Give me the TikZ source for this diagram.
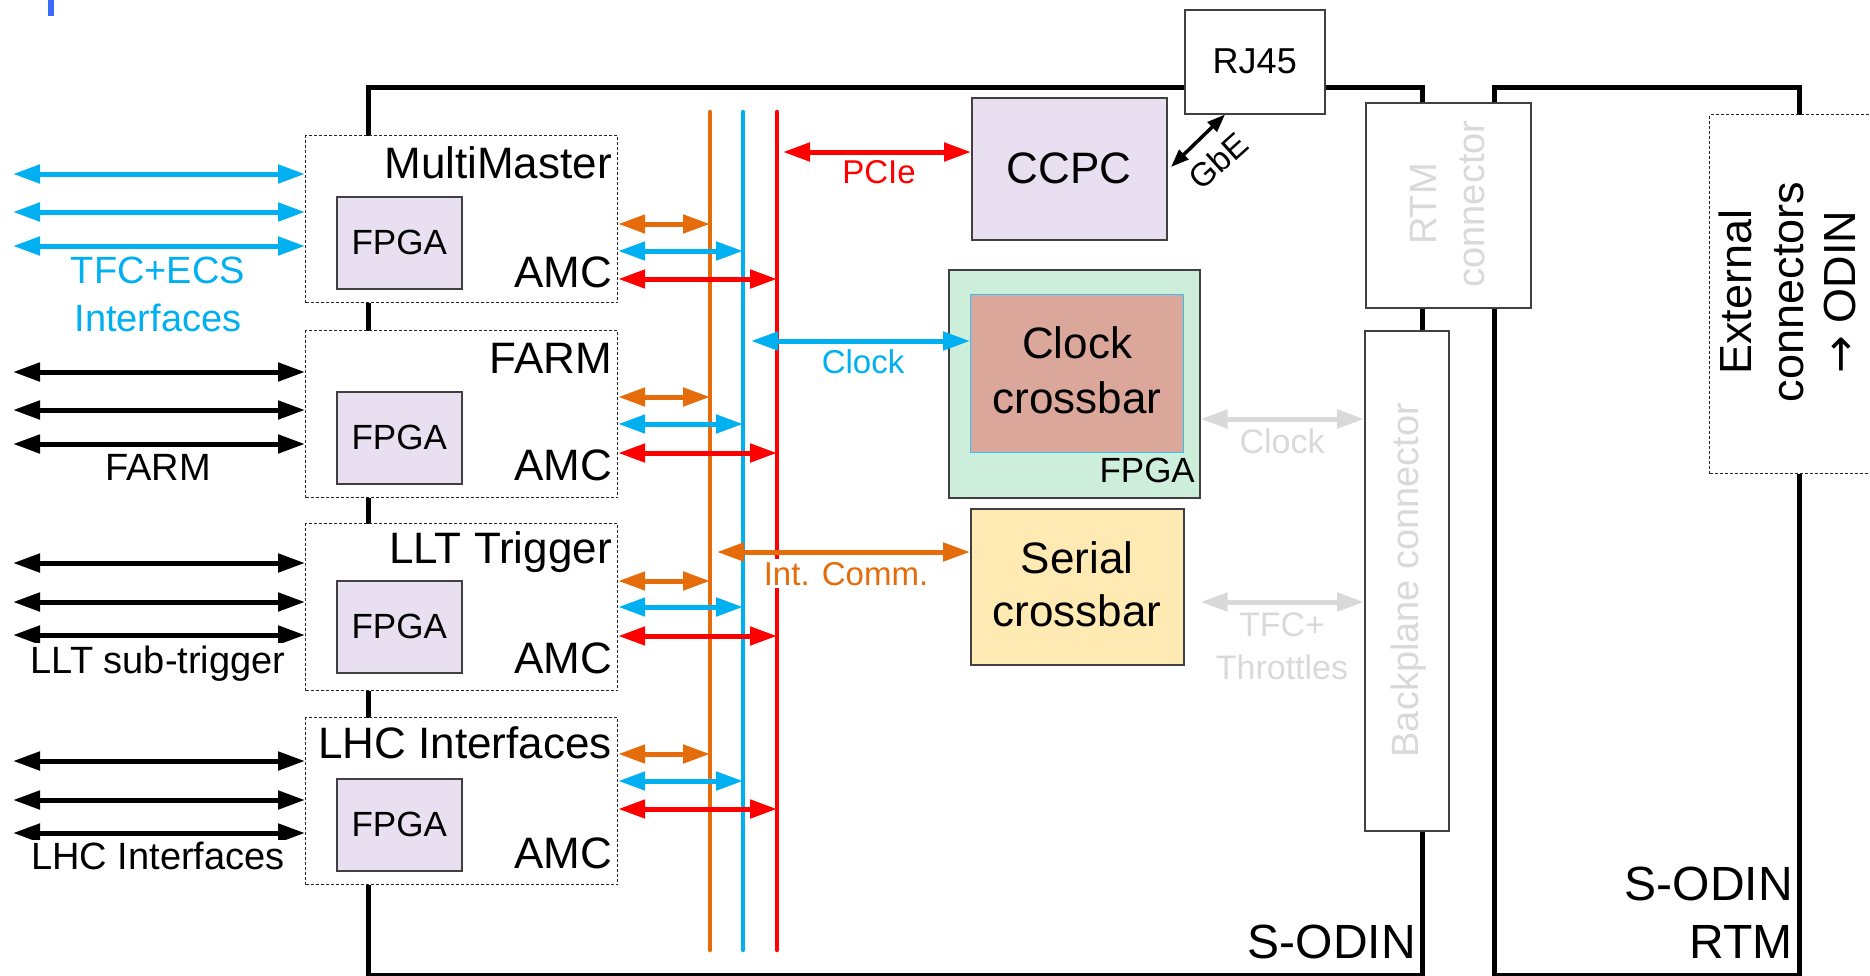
\documentclass[tikz,border=0pt]{standalone}
\usepackage{fontspec}
\setmainfont{Liberation Sans}
\newfontfamily\arrowfont{DejaVu Sans}
\usetikzlibrary{arrows.meta}
\definecolor{cblue}{HTML}{00B0F0}
\definecolor{corange}{HTML}{E46C0A}
\definecolor{cred}{HTML}{FF0000}
\definecolor{lav}{HTML}{E8DFF0}
\definecolor{mint}{HTML}{CCEEDB}
\definecolor{salmon}{HTML}{DBA79B}
\definecolor{pale}{HTML}{FFEAB3}
\definecolor{lgray}{HTML}{D9D9D9}
\definecolor{edge}{HTML}{404040}
\definecolor{tick}{HTML}{3D6BFF}
\newcommand{\fsz}[2]{\fontsize{#1}{#2}\selectfont}
\newcommand{\twoc}[2]{\vtop{\halign{\hfil##\hfil\cr #1\cr #2\cr}}}
\newcommand{\twor}[2]{\vtop{\halign{\hfil##\cr #1\cr #2\cr}}}
\newcommand{\threec}[3]{\vtop{\halign{\hfil##\hfil\cr #1\cr #2\cr #3\cr}}}
\begin{document}
\begin{tikzpicture}[x=1pt,y=-1pt,
  board/.style={draw=black, line width=5pt, inner sep=0pt, anchor=north west},
  box/.style={draw=edge, line width=1.5pt, inner sep=0pt, anchor=north west},
  module/.style={draw=black!85, line width=1.2pt, dash pattern=on 3pt off 2pt, fill=white, inner sep=0pt, anchor=north west, minimum width=312pt, minimum height=167pt},
  fpga/.style={box, fill=lav, minimum width=125pt, minimum height=92pt, font=\fsz{35}{40}},
  title/.style={anchor=base east, inner sep=0pt, font=\fsz{44}{50}},
  lab/.style={inner sep=0pt, anchor=base},
  leftlab/.style={anchor=base, inner sep=2pt, fill=white, font=\fsz{38}{48}},
  dar/.style={line width=5pt, {Triangle[length=27pt,width=18pt]}-{Triangle[length=27pt,width=18pt]}},
  bus/.style={line width=4.5pt, line cap=round}]
\useasboundingbox (0,0) rectangle (1870,975);
\fill[tick] (48,0) rectangle (54,16);

% boards
\node[board, minimum width=1054pt, minimum height=888pt] (sodin) at (366,85) {};
\node[board, minimum width=305pt, minimum height=888pt] (rtm) at (1492,85) {};

% buses
\coordinate (ot) at (710,112); \coordinate (ob) at (710,950);
\coordinate (bt) at (743,112); \coordinate (bb) at (743,950);
\coordinate (rt) at (777,112); \coordinate (rb) at (777,950);
\draw[bus, corange] (ot) -- (ob);
\draw[bus, cblue] (bt) -- (bb);
\draw[bus, cred] (rt) -- (rb);

% modules
\node[module] (mm) at (305,135) {};
\node[module] (fm) at (305,330) {};
\node[module] (ll) at (305,523) {};
\node[module] (lh) at (305,717) {};
\node[fpga] (mmf) at (336,196) {FPGA};
\node[fpga] (fmf) at (336,391) {FPGA};
\node[fpga] (llf) at (336,580) {FPGA};
\node[fpga] (lhf) at (336,778) {FPGA};
\node[title] (mmt) at (612,178) {MultiMaster};
\node[title] (fmt) at (612,373) {FARM};
\node[title] (llt) at (612,563) {LLT Trigger};
\node[title] (lht) at (612,758) {LHC Interfaces};
\node[title] (mma) at (612,287) {AMC};
\node[title] (fma) at (612,480) {AMC};
\node[title] (lla) at (612,673) {AMC};
\node[title] (lha) at (612,868) {AMC};

% left arrows
\foreach \n/\y in {1/174,2/212,3/246,4/372,5/410,6/444,7/563,8/602,9/635,10/761,11/800,12/833}
  \coordinate (L\n) at (13,\y);
\foreach \n in {1,2,3} \draw[dar, cblue] (L\n) -- (L\n -| mm.west);
\foreach \n in {4,5,6} \draw[dar] (L\n) -- (L\n -| fm.west);
\foreach \n in {7,8,9} \draw[dar] (L\n) -- (L\n -| ll.west);
\foreach \n in {10,11,12} \draw[dar] (L\n) -- (L\n -| lh.west);

\node[leftlab, text=cblue] (tfclab) at (158,283) {\twoc{TFC+ECS}{Interfaces}};
\node[leftlab] (farmlab) at (158,480) {FARM};
\node[leftlab] (lltlab) at (158,673) {LLT sub-trigger};
\node[leftlab] (lhclab) at (158,869) {LHC Interfaces};

% right arrows to buses
\foreach \m/\a/\b/\c in {mm/224/251/279, fm/397/424/453, ll/581/607/636, lh/754/781/809} {
  \coordinate (A) at (0,\a); \coordinate (B) at (0,\b); \coordinate (C) at (0,\c);
  \draw[dar, corange] (A -| \m.east) -- (A -| ot);
  \draw[dar, cblue] (B -| \m.east) -- (B -| bt);
  \draw[dar, cred] (C -| \m.east) -- (C -| rt);
}

% central boxes
\node[box, fill=lav, minimum width=195pt, minimum height=142pt, font=\fsz{44}{50}] (ccpc) at (971,97) {CCPC};
\node[box, fill=white, minimum width=140pt, minimum height=104pt, font=\fsz{36}{42}] (rj) at (1184,9) {RJ45};
\node[box, fill=mint, minimum width=251pt, minimum height=228pt] (gfp) at (948,269) {};
\node[draw=cblue!80, line width=1pt, fill=salmon, inner sep=0pt, anchor=north west, minimum width=213pt, minimum height=158pt] (ccb) at (970,294) {};
\node[lab, font=\fsz{44}{55}] (ccbt) at (1077,358) {\twoc{Clock}{crossbar}};
\node[title, font=\fsz{35}{40}] (gft) at (1195,482) {FPGA};
\node[box, fill=pale, minimum width=213pt, minimum height=156pt] (ser) at (970,508) {};
\node[lab, font=\fsz{44}{53}] (sert) at (1077,573) {\twoc{Serial}{crossbar}};

% connectors on the right
\node[box, fill=white, minimum width=165pt, minimum height=205pt] (rtmc) at (1365,102) {};
\node[lab, rotate=90, text=lgray, font=\fsz{38}{48}] (rtmct) at (1436,204) {\twoc{RTM}{connector}};
\node[box, fill=white, minimum width=84pt, minimum height=500pt] (bpc) at (1364,330) {};
\node[lab, rotate=90, text=lgray, font=\fsz{38}{44}] (bpct) at (1418,580) {Backplane connector};
\node[draw=black!85, line width=1.2pt, dash pattern=on 3pt off 2pt, fill=white, inner sep=0pt, anchor=north west, minimum width=170pt, minimum height=359pt] (ext) at (1709,114) {};
\node[lab, rotate=90, font=\fsz{45}{52}] (extt) at (1751,292) {\threec{External}{connectors}{{\arrowfont →} ODIN}};

% gray arrows
\coordinate (G1) at (0,419); \coordinate (G2) at (0,602);
\draw[dar, lgray] (G1 -| gfp.east) -- (G1 -| bpc.west);
\draw[dar, lgray] (G2 -| gfp.east) -- (G2 -| bpc.west);
\node[lab, text=lgray, font=\fsz{34}{43}] (gclk) at (1282,453) {Clock};
\node[lab, text=lgray, font=\fsz{34}{43}] (gtfc) at (1282,636) {\twoc{TFC+}{Throttles}};

% bus to central boxes
\coordinate (P1) at (783,152);
\draw[dar, cred] (P1) -- (P1 -| ccpc.west);
\node[lab, text=cred, font=\fsz{33}{40}] (pcie) at (879,183) {PCIe};
\coordinate (C1) at (751,341);
\draw[dar, cblue] (C1) -- (C1 -| ccb.west);
\node[lab, text=cblue, font=\fsz{33}{40}] (clk) at (863,373) {Clock};
\node[lab, fill=white, inner sep=3pt, text=corange, font=\fsz{33}{40}] (icomm) at (846,585) {Int. Comm.};
\coordinate (I1) at (717,552);
\draw[dar, corange] (I1) -- (I1 -| ser.west);

% GbE
\coordinate (g2) at (1171,167);
\draw[line width=3.5pt, {Triangle[length=18pt,width=13pt]}-{Triangle[length=18pt,width=13pt]}] (rj.south west -| 1225,0) -- (g2);
\node[anchor=center, inner sep=0pt, rotate=42, font=\fsz{33}{38}] (gbe) at (1218,161) {GbE};

% board labels
\node[title, font=\fsz{48}{58}] (sodint) at (1416,958) {S-ODIN};
\node[anchor=base east, inner sep=0pt, font=\fsz{48}{58}] (rtmt) at (1793,900) {\twor{S-ODIN}{RTM}};
\end{tikzpicture}
\end{document}
